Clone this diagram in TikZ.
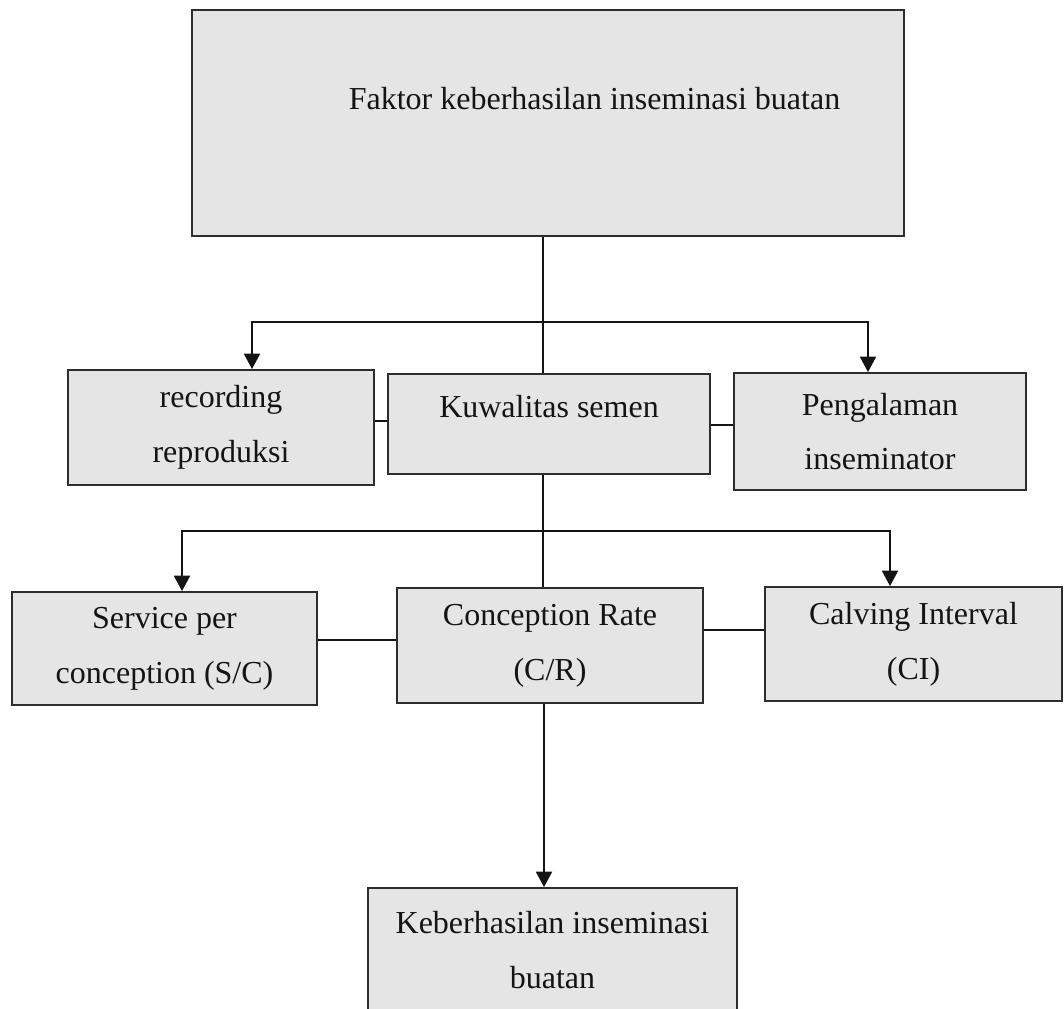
\documentclass[tikz,border=0pt]{standalone}
\usepackage{fontspec}
\setmainfont{Liberation Serif}
\usetikzlibrary{arrows.meta}
\definecolor{boxfill}{RGB}{229,229,229}
\definecolor{boxline}{RGB}{45,45,45}
\definecolor{inkc}{RGB}{20,20,20}
\begin{document}
\begin{tikzpicture}[x=0.75pt,y=-0.75pt,
  boxbase/.style={draw=boxline, fill=boxfill, line width=1.4pt, inner sep=0pt,
    font=\fontsize{24}{41}\selectfont, text=inkc},
  box/.style={boxbase, align=center},
  conn/.style={line width=1.4pt, draw=inkc},
  arr/.style={conn, -{Triangle[width=12pt,length=11.5pt]}}]
\useasboundingbox (0,0) rectangle (1064,1009);

% boxes
\node[boxbase, minimum width=534pt, minimum height=169.5pt] (top) at (548,123)
  {\hspace*{69.75pt}\raisebox{9.75pt}[0pt][0pt]{Faktor keberhasilan inseminasi buatan}};
\node[box, minimum width=229.5pt, minimum height=86.25pt] (rec) at (221,427.5)
  {recording\\reproduksi};
\node[boxbase, minimum width=241.5pt, minimum height=75pt] (kuw) at (549,424)
  {\raisebox{5.25pt}[0pt][0pt]{Kuwalitas semen}};
\node[box, minimum width=219pt, minimum height=87.75pt] (pen) at (880,431.5)
  {Pengalaman\\inseminator};
\node[box, minimum width=228.75pt, minimum height=84.75pt] (svc) at (164.5,648.5)
  {Service per\\conception (S/C)};
\node[box, minimum width=229.5pt, minimum height=86.25pt] (conc) at (550,645.5)
  {Conception Rate\\(C/R)};
\node[box, minimum width=222.75pt, minimum height=85.5pt] (cal) at (913.5,644)
  {Calving Interval\\(CI)};
\node[box, minimum width=276.75pt, minimum height=93pt] (bot) at (552.5,950)
  {Keberhasilan inseminasi\\buatan};

% helper coordinates
\coordinate (j1) at (543,322);
\coordinate (l1) at (252,322);
\coordinate (r1) at (868,322);
\coordinate (j2) at (543,531);
\coordinate (l2) at (182,531);
\coordinate (r2) at (890,531);
\coordinate (j3) at (544,703);
\coordinate (h1) at (0,421);
\coordinate (h2) at (0,425);
\coordinate (h3) at (0,640);
\coordinate (h4) at (0,630);

% connectors, level 1
\draw[conn] (top.south -| j1) -- (kuw.north -| j1);
\draw[arr] (j1) -| (rec.north -| l1);
\draw[arr] (j1) -| (pen.north -| r1);
\draw[conn] (rec.east |- h1) -- (kuw.west |- h1);
\draw[conn] (kuw.east |- h2) -- (pen.west |- h2);

% connectors, level 2
\draw[conn] (kuw.south -| j2) -- (conc.north -| j2);
\draw[arr] (j2) -| (svc.north -| l2);
\draw[arr] (j2) -| (cal.north -| r2);
\draw[conn] (svc.east |- h3) -- (conc.west |- h3);
\draw[conn] (conc.east |- h4) -- (cal.west |- h4);

% final arrow
\draw[arr] (conc.south -| j3) -- (bot.north -| j3);
\end{tikzpicture}
\end{document}
